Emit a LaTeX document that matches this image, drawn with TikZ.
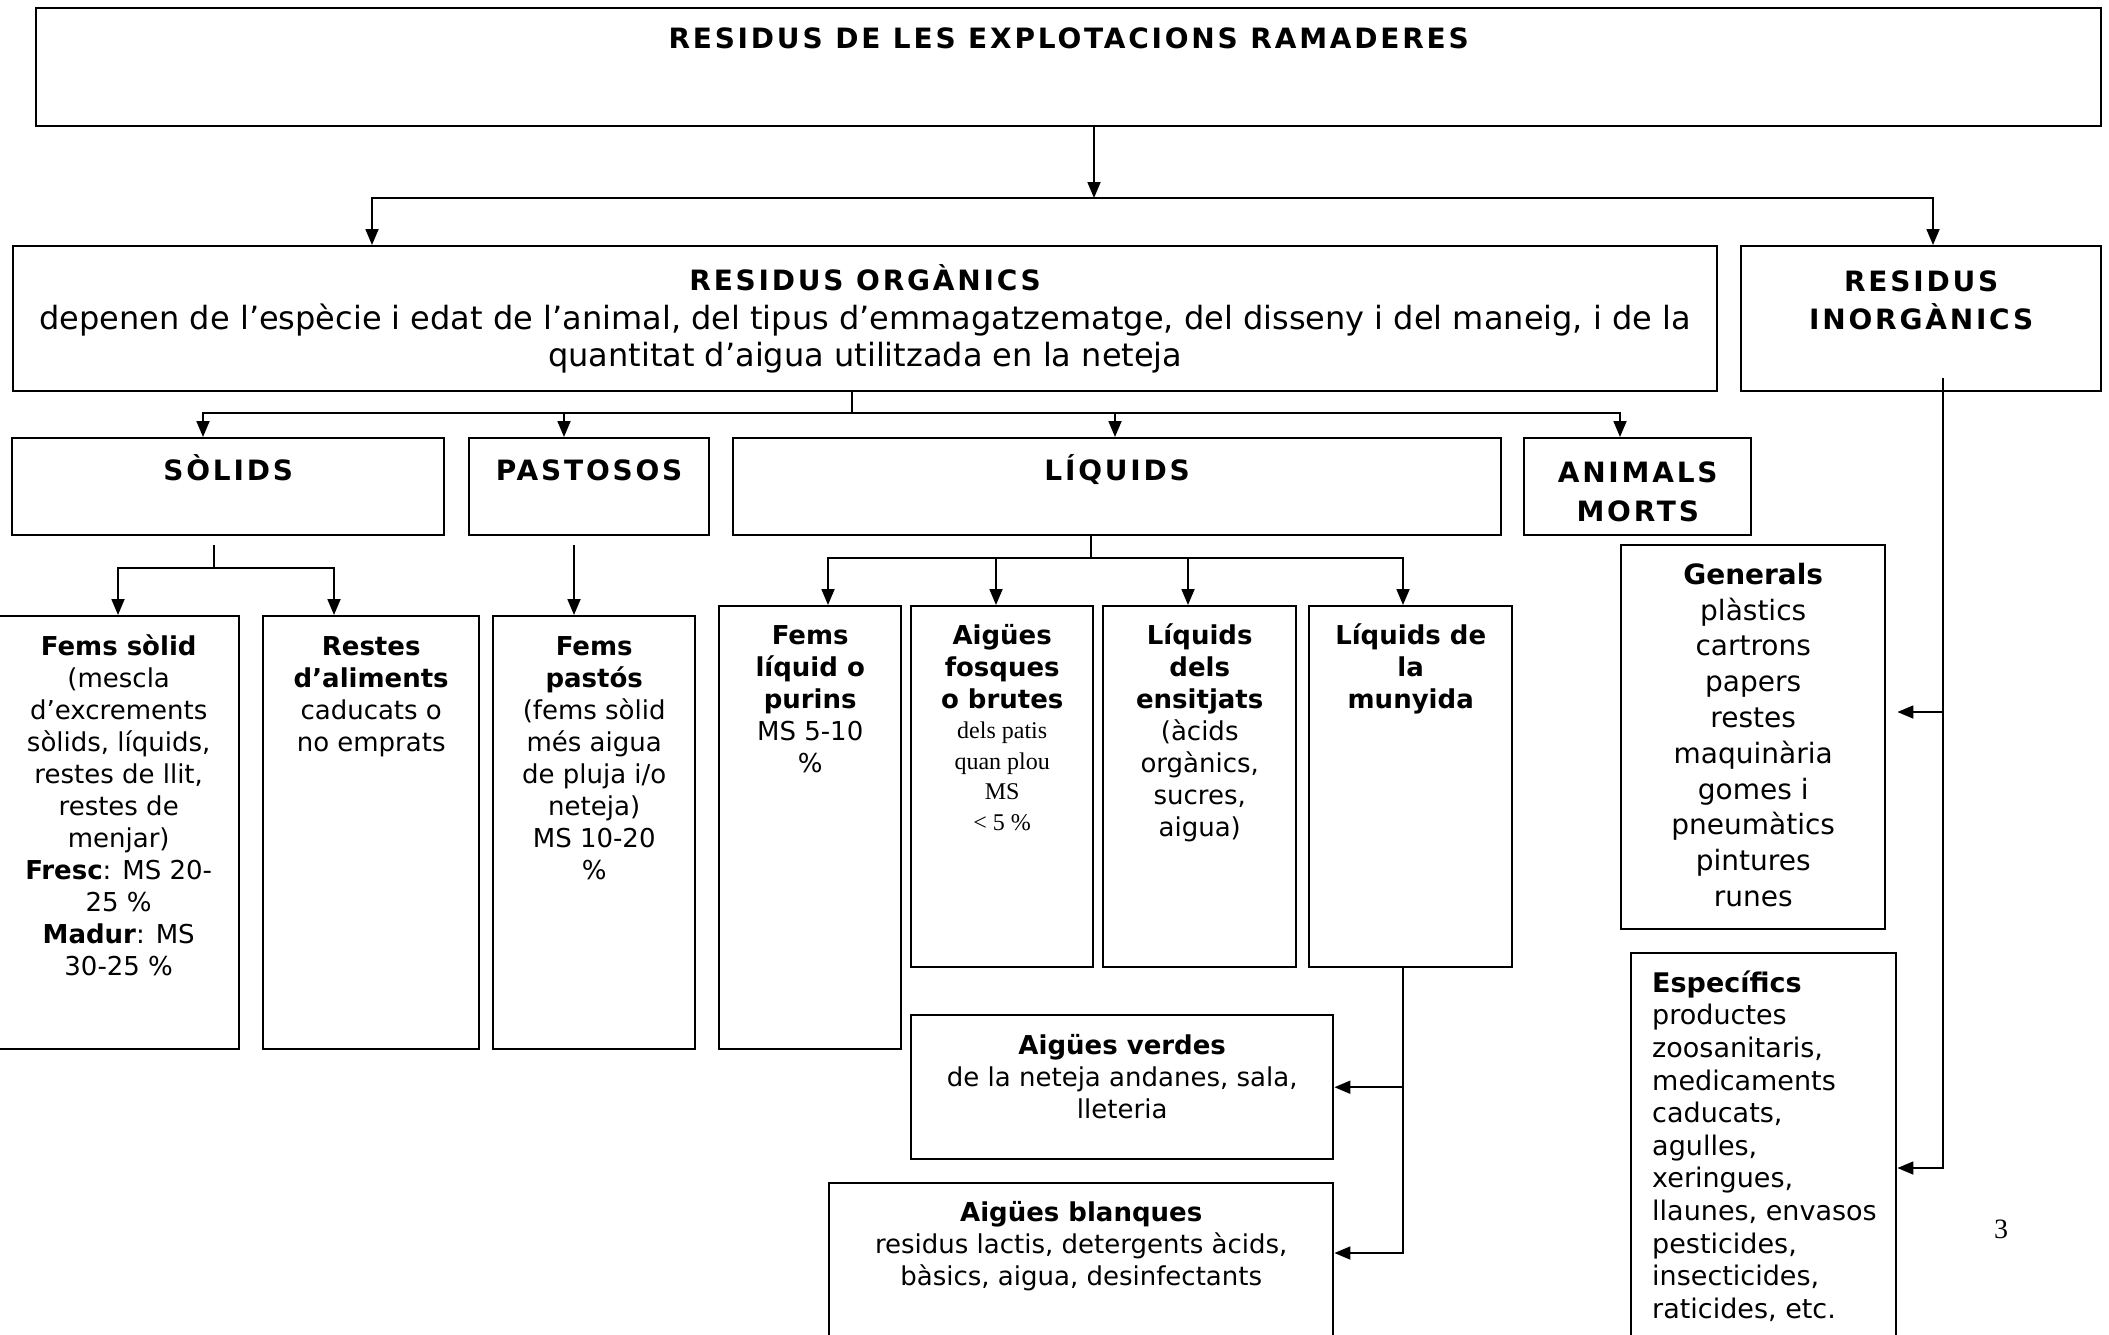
\documentclass[tikz,border=0pt]{standalone}
\usepackage{fontspec}
\setmainfont{DejaVu Sans}
\newfontfamily\espaiat[LetterSpace=10]{DejaVu Sans}
\newfontfamily\verda{DejaVu Sans}
\newfontfamily\tmsf{Liberation Serif}
\usetikzlibrary{arrows.meta}
\tikzset{%
  fletxa/.style = {-{Triangle[length=16pt,width=13pt]},line width=1.8pt},
  linia/.style = {line width=1.8pt},
  caixa/.style = {rectangle,draw,line width=2.4pt,inner sep=0pt,
        anchor=north west}
}
% amplada, alcada, primera linia de base, lletra, text
\newcommand{\dinscaixa}[5]{\begin{minipage}[t][#2pt][t]{#1pt}\centering#4%
  \vspace*{\dimexpr#3pt-.7\baselineskip\relax}\strut#5\end{minipage}}
\newcommand{\titol}{\fontsize{28}{37}\selectfont\espaiat\bfseries}
\newcommand{\lletracaixa}{\fontsize{26}{32}\selectfont\verda}

\begin{document}
\begin{tikzpicture}[x=1pt,y=-1pt]
\useasboundingbox (0,0) rectangle (2109,1334);
\clip (0,0) rectangle (2109,1334);

\node[caixa] (cabecera) at (35,7)
    {\dinscaixa{2065}{118}{40}{\titol}{RESIDUS DE LES EXPLOTACIONS RAMADERES}};
\node[caixa] (organics) at (12,245)
    {\dinscaixa{1704}{145}{44}{\fontsize{32}{37}\selectfont\verda}{{\titol RESIDUS ORGÀNICS}\\[2pt]
    depenen de l’espècie i edat de l’animal, del tipus d’emmagatzematge, del disseny i del maneig, i de la\\
    quantitat d’aigua utilitzada en la neteja}};
\node[caixa] (inorganics) at (1740,245)
    {\dinscaixa{360}{145}{45}{\titol}{RESIDUS\\INORGÀNICS}};
\node[caixa] (solids) at (11,437) {\dinscaixa{432}{97}{42}{\titol}{SÒLIDS}};
\node[caixa] (pastosos) at (468,437) {\dinscaixa{240}{97}{42}{\titol}{PASTOSOS}};
\node[caixa] (liquids) at (732,437) {\dinscaixa{768}{97}{42}{\titol}{LÍQUIDS}};
\node[caixa] (animals) at (1523,437)
    {\dinscaixa{227}{97}{44}{\fontsize{28}{39}\selectfont\espaiat\bfseries}{ANIMALS\\MORTS}};

\node[caixa] (femssolid) at (-3,615)
    {\dinscaixa{241}{433}{39}{\lletracaixa}{\textbf{Fems sòlid}\\(mescla\\d’excrements\\sòlids, líquids,\\
    restes de llit,\\restes de\\menjar)\\\textbf{Fresc}: MS 20-\\25 \%\\\textbf{Madur}: MS\\30-25 \%}};
\node[caixa] (restes) at (262,615)
    {\dinscaixa{216}{433}{39}{\lletracaixa}{\textbf{Restes}\\\textbf{d’aliments}\\caducats o\\no emprats}};
\node[caixa] (femspastos) at (492,615)
    {\dinscaixa{202}{433}{39}{\lletracaixa}{\textbf{Fems}\\\textbf{pastós}\\(fems sòlid\\més aigua\\
    de pluja i/o\\neteja)\\MS 10-20\\\%}};

\node[caixa] (femsliquid) at (718,605)
    {\dinscaixa{182}{443}{38}{\lletracaixa}{\textbf{Fems}\\\textbf{líquid o}\\\textbf{purins}\\MS 5-10\\\%}};
\node[caixa] (fosques) at (910,605)
    {\dinscaixa{182}{361}{38}{\lletracaixa}{\textbf{Aigües}\\\textbf{fosques}\\\textbf{o brutes}\par
    \tmsf\fontsize{24}{30.5}\selectfont dels patis\\quan plou\\MS\\< 5 \%}};
\node[caixa] (ensitjats) at (1102,605)
    {\dinscaixa{193}{361}{38}{\lletracaixa}{\textbf{Líquids}\\\textbf{dels}\\\textbf{ensitjats}\\(àcids\\
    orgànics,\\sucres,\\aigua)}};
\node[caixa] (munyida) at (1308,605)
    {\dinscaixa{203}{361}{38}{\lletracaixa}{\textbf{Líquids de}\\\textbf{la}\\\textbf{munyida}}};
\node[caixa] (verdes) at (910,1014)
    {\dinscaixa{422}{144}{39}{\lletracaixa}{\textbf{Aigües verdes}\\de la neteja andanes, sala,\\lleteria}};
\node[caixa] (blanques) at (828,1182)
    {\dinscaixa{504}{170}{38}{\lletracaixa}{\textbf{Aigües blanques}\\residus lactis, detergents àcids,\\
    bàsics, aigua, desinfectants}};

\node[caixa] (generals) at (1620,544)
    {\dinscaixa{264}{384}{39}{\fontsize{28}{35.8}\selectfont\verda}{\textbf{Generals}\\plàstics\\
    cartrons\\papers\\restes\\maquinària\\gomes i\\pneumàtics\\pintures\\runes}};
\node[caixa] (especifics) at (1630,952)
    {\dinscaixa{265}{400}{39}{\fontsize{27}{32.6}\selectfont\verda\raggedright\leftskip=21pt}%
    {\textbf{Específics}\\productes\\zoosanitaris,\\medicaments\\caducats,\\agulles,\\xeringues,\\
    llaunes, envasos\\pesticides,\\insecticides,\\raticides, etc.}};

\node (pagina) at (2001,1229) {\tmsf\fontsize{28}{32}\selectfont 3};

% primer nivell
\coordinate (nus0) at (1094,198);
\coordinate (nusE) at (372,198);
\coordinate (nusD) at (1933,198);
\draw[fletxa] (nus0 |- cabecera.south) -- (nus0);
\draw[fletxa] (nus0) -| (nusE |- organics.north);
\draw[fletxa] (nus0) -| (nusD |- inorganics.north);

% residus organics
\coordinate (nus1) at (852,413);
\coordinate (xsol) at (203,413);
\coordinate (xpas) at (564,413);
\coordinate (xliq) at (1115,413);
\coordinate (xani) at (1620,413);
\draw[linia] (nus1 |- organics.south) -- (nus1);
\draw[fletxa] (nus1) -| (xsol |- solids.north);
\draw[fletxa] (nus1) -| (xani |- animals.north);
\draw[fletxa] (xpas) -- (xpas |- pastosos.north);
\draw[fletxa] (xliq) -- (xliq |- liquids.north);

% solids i pastosos
\coordinate (nus2) at (214,568);
\coordinate (xfs) at (118,568);
\coordinate (xre) at (334,568);
\coordinate (xfp) at (574,568);
\draw[linia,shorten <=9pt] (nus2 |- solids.south) -- (nus2);
\draw[fletxa] (nus2) -| (xfs |- femssolid.north);
\draw[fletxa] (nus2) -| (xre |- restes.north);
\draw[fletxa,shorten <=9pt] (xfp |- pastosos.south) -- (xfp |- femspastos.north);

% liquids
\coordinate (nus3) at (1091,558);
\coordinate (xfl) at (828,558);
\coordinate (xfo) at (996,558);
\coordinate (xen) at (1188,558);
\coordinate (xmu) at (1403,558);
\draw[linia] (nus3 |- liquids.south) -- (nus3);
\draw[fletxa] (nus3) -| (xfl |- femsliquid.north);
\draw[fletxa] (nus3) -| (xmu |- munyida.north);
\draw[fletxa] (xfo) -- (xfo |- fosques.north);
\draw[fletxa] (xen) -- (xen |- ensitjats.north);

% munyida
\coordinate (yb) at (1403,1253);
\draw[fletxa] (xmu |- munyida.south) |- (verdes.east);
\draw[fletxa] (xmu |- munyida.south) |- (blanques.east |- yb);

% residus inorganics
\coordinate (xin) at (1943,390);
\coordinate (yg) at (1943,712);
\coordinate (ye) at (1943,1168);
\draw[fletxa,shorten <=-14pt,shorten >=11pt] (xin |- inorganics.south) |- (generals.east |- yg);
\draw[fletxa,shorten <=-14pt] (xin |- inorganics.south) |- (especifics.east |- ye);
\end{tikzpicture}
\end{document}
